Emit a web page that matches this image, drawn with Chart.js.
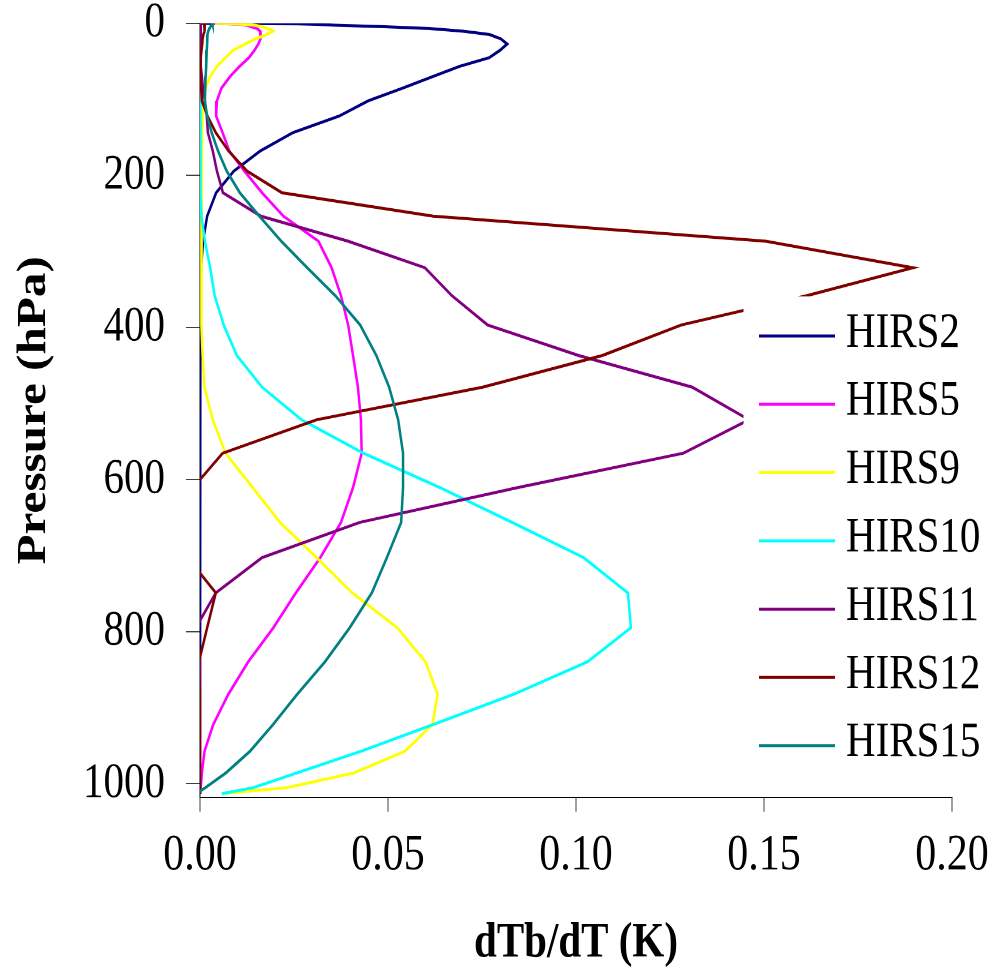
<!DOCTYPE html>
<html>
<head>
<meta charset="utf-8">
<title>HIRS weighting functions</title>
<script src="https://cdn.jsdelivr.net/npm/chart.js@4.4.1/dist/chart.umd.min.js"></script>
<style>
  html, body { margin: 0; padding: 0; background: #fff; width: 996px; height: 973px; overflow: hidden; }
  #page { position: relative; width: 996px; height: 973px; overflow: hidden; }
  /* the original picture is stretched vertically by about 1.2 */
  #wrap { position: absolute; left: 0; top: 0; width: 996px; height: 811px; transform: scaleY(1.2); transform-origin: 0 0; }
</style>
</head>
<body>
<div id="page"><div id="wrap"><canvas id="chart" width="996" height="811"></canvas></div></div>
<script>
// pressure levels (hPa)
const pressure = [0.1, 0.29, 0.69, 1.42, 2.611, 4.407, 6.95, 10.37, 14.81, 20.4, 27.26, 35.51, 45.29,
  56.73, 69.97, 85.18, 102.05, 122.04, 143.84, 167.95, 194.36, 222.94, 253.71, 286.6, 321.5, 358.28,
  396.81, 436.95, 478.54, 521.46, 565.54, 610.6, 656.43, 702.73, 749.12, 795.09, 839.95, 882.8,
  922.46, 957.44, 985.88, 1005.43, 1013.25];

// dTb/dT (K) per channel, one value per level
const hirs2 = [0.001, 0.012, 0.026, 0.031, 0.036, 0.049, 0.061, 0.070, 0.077, 0.080, 0.0817, 0.0798, 0.0769,
  0.069, 0.062, 0.054, 0.0447, 0.037, 0.0247, 0.016, 0.009, 0.0043, 0.0019, 0.0008, 0.0003, 0.0001,
  0, 0, 0, 0, 0, 0, 0, 0, 0, 0, 0, 0, 0, 0, 0, 0, 0];
const hirs5 = [0.003, 0.005, 0.008, 0.011, 0.0125, 0.0135, 0.0152, 0.016, 0.0162, 0.016, 0.0155, 0.0145, 0.013,
  0.0105, 0.008, 0.0057, 0.0045, 0.0043, 0.006, 0.0078, 0.0118, 0.0165, 0.0222, 0.0315, 0.035, 0.0375,
  0.0394, 0.0407, 0.042, 0.0428, 0.043, 0.0407, 0.0375, 0.032, 0.0255, 0.0195, 0.0128, 0.0075,
  0.0035, 0.0012, 0.0005, 0.0002, 0.0001];
const hirs9 = [0.004, 0.006, 0.009, 0.012, 0.0145, 0.0165, 0.018, 0.0194, 0.0178, 0.0148, 0.012, 0.0088, 0.0068,
  0.0045, 0.0027, 0.0015, 0.001, 0.0007, 0.0005, 0.0004, 0.0003, 0.0003, 0.0003, 0.0003, 0.0004, 0.0005,
  0.0005, 0.0007, 0.0012, 0.0034, 0.0068, 0.014, 0.0213, 0.031, 0.0405, 0.0525, 0.060, 0.0632,
  0.0618, 0.0545, 0.041, 0.023, 0.006];
const hirs10 = [0.0001, 0.0001, 0.0001, 0.0001, 0.0001, 0.0001, 0.0001, 0.0001, 0.0001, 0.0001, 0.0001, 0.0001, 0.0001,
  0.0001, 0.0002, 0.0002, 0.0002, 0.0002, 0.0002, 0.0002, 0.0002, 0.0002, 0.0004, 0.0013, 0.0027, 0.0039,
  0.0063, 0.0098, 0.0165, 0.027, 0.0435, 0.0638, 0.083, 0.102, 0.1138, 0.1146, 0.103, 0.0833,
  0.062, 0.0428, 0.0258, 0.0141, 0.0058];
const hirs11 = [0.0002, 0.0002, 0.0002, 0.0002, 0.0002, 0.0002, 0.0002, 0.0002, 0.0002, 0.0002, 0.0002, 0.0002, 0.0002,
  0.0002, 0.0005, 0.0008, 0.0013, 0.0018, 0.0021, 0.0034, 0.0045, 0.0061, 0.0162, 0.0394, 0.0598, 0.067,
  0.0765, 0.1007, 0.1309, 0.146, 0.1285, 0.0846, 0.0425, 0.0165, 0.0042, -0.0011, 0, 0,
  0, 0, 0, 0, 0];
const hirs12 = [0.0003, 0.0008, 0.0011, 0.0012, 0.0013, 0.0013, 0.0013, 0.0011, 0.0009, 0.0007, 0.0006, 0.0004, 0.0002,
  0.0001, 0.0002, 0.0003, 0.0005, 0.002, 0.0042, 0.0076, 0.0125, 0.0218, 0.062, 0.1505, 0.1896, 0.1614,
  0.128, 0.107, 0.0752, 0.031, 0.006, -0.0018, -0.003, -0.0033, 0.0042, 0.0019, -0.0003, 0,
  0, 0, 0, 0, 0];
const hirs15 = [0.0033, 0.0034, 0.0034, 0.0033, 0.0031, 0.0028, 0.0025, 0.0022, 0.002, 0.0019, 0.0019, 0.0018, 0.0017,
  0.0016, 0.0015, 0.0014, 0.0013, 0.0019, 0.0031, 0.0048, 0.0071, 0.0106, 0.0158, 0.0216, 0.0285, 0.036,
  0.0426, 0.0469, 0.0503, 0.0527, 0.054, 0.054, 0.0535, 0.0497, 0.0457, 0.0398, 0.0332, 0.0258,
  0.0194, 0.0133, 0.0069, 0.0014, -0.001];

const seriesNames = ['HIRS2', 'HIRS5', 'HIRS9', 'HIRS10', 'HIRS11', 'HIRS12', 'HIRS15'];
const seriesValues = [hirs2, hirs5, hirs9, hirs10, hirs11, hirs12, hirs15];
const seriesColors = ['#000080', '#FF00FF', '#FFFF00', '#00FFFF', '#800080', '#800000', '#008080'];

const xTicks = [0, 0.05, 0.10, 0.15, 0.20];
const yTicks = [0, 200, 400, 600, 800, 1000];

const serif = "'Liberation Serif', 'Times New Roman', serif";

// legend drawn over the plot on a white box, like the original
const boxLegend = {
  id: 'boxLegend',
  afterDatasetsDraw(chart) {
    const ctx = chart.ctx;
    ctx.save();
    ctx.fillStyle = '#fff';
    ctx.fillRect(743.5, 247, 996 - 743.5, 412);
    ctx.font = '41px ' + serif;
    ctx.textBaseline = 'middle';
    chart.data.datasets.forEach((ds, i) => {
      const y = 280 + i * 56.9;
      ctx.strokeStyle = ds.borderColor;
      ctx.lineWidth = 2.5;
      ctx.beginPath();
      ctx.moveTo(759, y);
      ctx.lineTo(835, y);
      ctx.stroke();
      ctx.fillStyle = '#000';
      ctx.fillText(ds.label, 846, y - 2);
    });
    ctx.restore();
  }
};

const datasets = seriesNames.map((name, i) => ({
  label: name,
  data: seriesValues[i].map((v, j) => ({ x: v, y: pressure[j] })),
  borderColor: seriesColors[i],
  backgroundColor: seriesColors[i],
  borderWidth: 2.5,
  pointRadius: 0,
  tension: 0,
  fill: false,
  order: seriesNames.length - 1 - i // later series on top
}));

new Chart(document.getElementById('chart'), {
  type: 'line',
  data: { datasets: datasets },
  plugins: [boxLegend],
  options: {
    responsive: false,
    devicePixelRatio: 2,
    animation: false,
    layout: { padding: { top: 19.4, right: 44, left: 0, bottom: 0 } },
    plugins: { legend: { display: false }, tooltip: { enabled: false } },
    scales: {
      x: {
        type: 'linear',
        min: 0,
        max: 0.2,
        afterBuildTicks: scale => { scale.ticks = xTicks.map(v => ({ value: v })); },
        afterFit: scale => { scale.height = 146.6; scale.paddingLeft = 0; scale.paddingRight = 0; },
        ticks: {
          color: '#000',
          font: { family: serif, size: 42, lineHeight: 1.2 },
          padding: 12,
          maxRotation: 0,
          autoSkip: false,
          callback: v => Number(v).toFixed(2)
        },
        grid: { drawOnChartArea: false, drawTicks: true, tickLength: 12, color: '#404040', lineWidth: 1 },
        border: { display: true, color: '#000', width: 1 },
        title: {
          display: true,
          text: 'dTb/dT (K)',
          color: '#000',
          font: { family: serif, size: 41, weight: 'bold', lineHeight: 1.2 },
          padding: { top: 0, bottom: 0 }
        }
      },
      y: {
        type: 'linear',
        reverse: true,
        min: 0,
        max: 1018,
        afterBuildTicks: scale => { scale.ticks = yTicks.map(v => ({ value: v })); },
        afterFit: scale => { scale.width = 200; scale.paddingTop = 0; scale.paddingBottom = 0; },
        ticks: {
          color: '#000',
          font: { family: serif, size: 41, lineHeight: 1.2 },
          padding: 21,
          autoSkip: false,
          callback: v => String(v)
        },
        grid: { drawOnChartArea: false, drawTicks: true, tickLength: 14, color: '#404040', lineWidth: 1 },
        border: { display: true, color: '#000', width: 1 },
        title: {
          display: true,
          text: 'Pressure (hPa)',
          color: '#000',
          font: { family: serif, size: 41, weight: 'bold', lineHeight: 1.2 },
          padding: { top: 10, bottom: 0 }
        }
      }
    }
  }
});
</script>
</body>
</html>
